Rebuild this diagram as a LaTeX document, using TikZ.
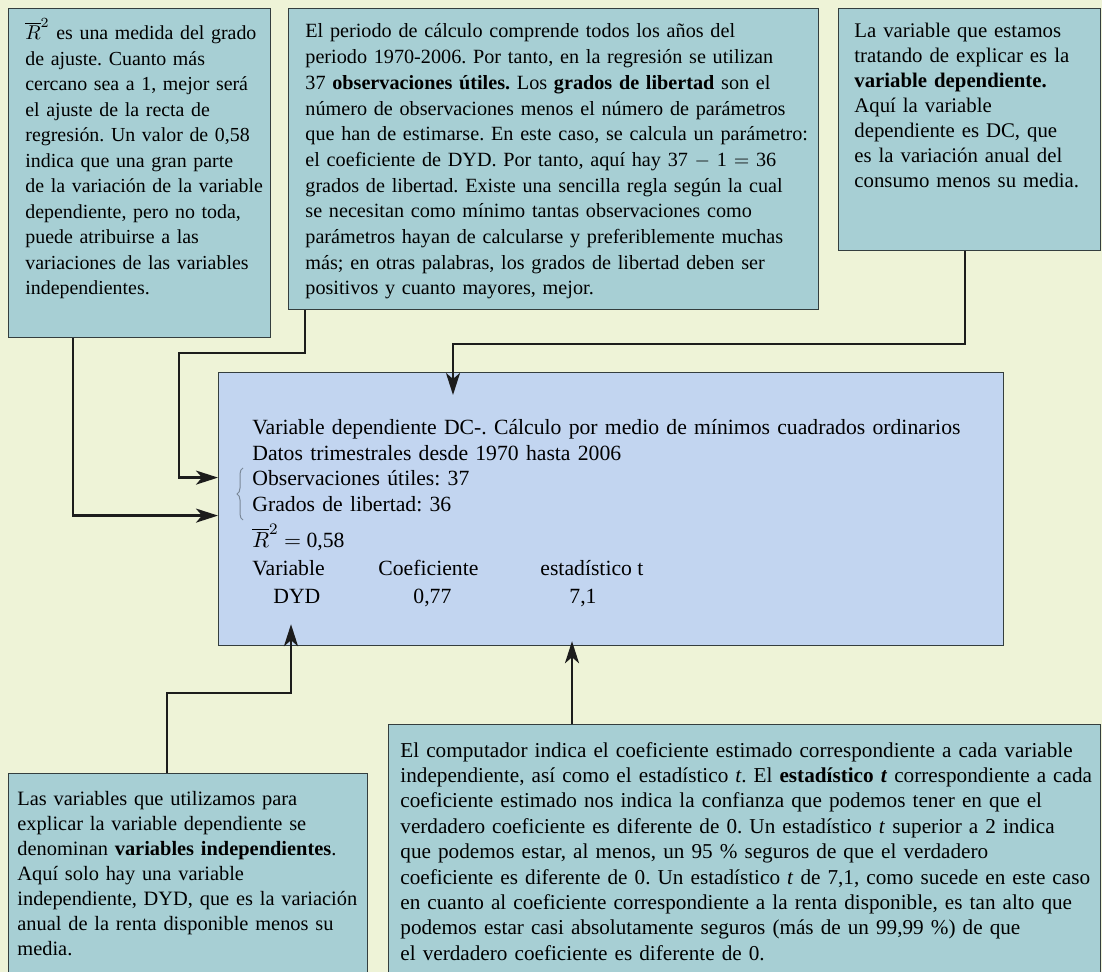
\documentclass[tikz,border=0pt]{standalone}
\usepackage{fontspec}
\setmainfont{Liberation Serif}
\usetikzlibrary{arrows.meta,decorations.pathreplacing}

\definecolor{bgcream}{HTML}{EEF3D7}
\definecolor{notefill}{HTML}{A7CFD4}
\definecolor{mainfill}{HTML}{C2D5F0}
\definecolor{boxedge}{HTML}{343E3E}
\definecolor{linkdark}{HTML}{1C1C1C}
\definecolor{bracegray}{HTML}{7A8898}

\newcommand{\rbar}{$\overline{R}^{2}$}
\frenchspacing

\begin{document}
\begin{tikzpicture}[
		x=0.5pt, y=-0.5pt,
		note box/.style={draw=boxedge, line width=0.6pt, fill=notefill, anchor=north west, inner sep=0pt},
		main box/.style={note box, fill=mainfill},
		note text/.style={anchor=base west, inner sep=0pt, align=left, text width=#1},
		note text/.default=400pt,
		cell/.style={anchor=base west, inner sep=0pt, font=\fontsize{10.85}{12.7}\selectfont},
		link/.style={draw=linkdark, line width=1.3pt, -{Stealth[length=11pt,width=7pt,inset=3pt]}}
		]
		% background and page size
		\fill[bgcream] (0,0) rectangle (1102,972);
		\useasboundingbox (0,0) rectangle (1102,972);
		
		% boxes
		\node[note box, minimum width=131pt, minimum height=164.5pt] (boxA) at (8,8) {};
		\node[note box, minimum width=265pt, minimum height=150.5pt] (boxB) at (288,8) {};
		\node[note box, minimum width=131pt, minimum height=121pt] (boxC) at (838,8) {};
		\node[main box, minimum width=392.5pt, minimum height=136.5pt] (main) at (218,372) {};
		\node[note box, minimum width=179.5pt, minimum height=110pt] (boxD) at (8,773) {};
		\node[note box, minimum width=356pt, minimum height=130pt] (boxE) at (388,724) {};
		
		% texts of the notes
		\node[note text=140pt, font=\fontsize{9.95}{12.75}\selectfont] (textA) at (25,40) {%
			\rbar{} es una medida del grado\\
			de ajuste. Cuanto más\\
			cercano sea a 1, mejor será\\
			el ajuste de la recta de\\
			regresión. Un valor de 0,58\\
			indica que una gran parte\\
			de la variación de la variable\\
			dependiente, pero no toda,\\
			puede atribuirse a las\\
			variaciones de las variables\\
			independientes.};
		\node[note text=280pt, font=\fontsize{10.1}{12.85}\selectfont] (textB) at (305,38) {%
			El periodo de cálculo comprende todos los años del\\
			periodo 1970-2006. Por tanto, en la regresión se utilizan\\
			37 \textbf{observaciones útiles.} Los \textbf{grados de libertad} son el\\
			número de observaciones menos el número de parámetros\\
			que han de estimarse. En este caso, se calcula un parámetro:\\
			el coeficiente de DYD. Por tanto, aquí hay 37 $-$ 1 $=$ 36\\
			grados de libertad. Existe una sencilla regla según la cual\\
			se necesitan como mínimo tantas observaciones como\\
			parámetros hayan de calcularse y preferiblemente muchas\\
			más; en otras palabras, los grados de libertad deben ser\\
			positivos y cuanto mayores, mejor.};
		\node[note text=140pt, font=\fontsize{10.4}{12.5}\selectfont] (textC) at (854,38) {%
			La variable que estamos\\
			tratando de explicar es la\\
			\textbf{variable dependiente.}\\
			Aquí la variable\\
			dependiente es DC, que\\
			es la variación anual del\\
			consumo menos su media.};
		\node[note text=190pt, font=\fontsize{10.2}{12.5}\selectfont] (textD) at (17,805) {%
			Las variables que utilizamos para\\
			explicar la variable dependiente se\\
			denominan \textbf{variables independientes}.\\
			Aquí solo hay una variable\\
			independiente, DYD, que es la variación\\
			anual de la renta disponible menos su\\
			media.};
		\node[note text=370pt, font=\fontsize{10.6}{12.7}\selectfont] (textE) at (400,757) {%
			El computador indica el coeficiente estimado correspondiente a cada variable\\
			independiente, así como el estadístico \textit{t}. El \textbf{estadístico \textit{t}} correspondiente a cada\\
			coeficiente estimado nos indica la confianza que podemos tener en que el\\
			verdadero coeficiente es diferente de 0. Un estadístico \textit{t} superior a 2 indica\\
			que podemos estar, al menos, un 95 \% seguros de que el verdadero\\
			coeficiente es diferente de 0. Un estadístico \textit{t} de 7,1, como sucede en este caso\\
			en cuanto al coeficiente correspondiente a la renta disponible, es tan alto que\\
			podemos estar casi absolutamente seguros (más de un 99,99 \%) de que\\
			el verdadero coeficiente es diferente de 0.};
		
		% regression output
		\node[note text, font=\fontsize{10.85}{12.7}\selectfont] (outHead) at (252,435) {%
			Variable dependiente DC-. Cálculo por medio de mínimos cuadrados ordinarios\\
			Datos trimestrales desde 1970 hasta 2006\\
			Observaciones útiles: 37\\
			Grados de libertad: 36};
		\node[cell] (outR) at (252,547) {\rbar{} $=$ 0,58};
		\node[cell] (colVar) at (252,575) {Variable};
		\node[cell] (colCoef) at (378,575) {Coeficiente};
		\node[cell] (colStat) at (540,575) {estadístico t};
		\node[cell] (valVar) at (273,603) {DYD};
		\node[cell] (valCoef) at (413,603) {0,77};
		\node[cell] (valStat) at (569,603) {7,1};
		\draw[bracegray, line width=0.5pt, decorate, decoration={brace, amplitude=3pt}] (243,520) -- (243,468);
		
		% connectors
		\draw[link] (boxA.south west) ++(65,0) |- ([yshift=-3.25pt]main.west);
		\draw[link] (boxB.south west) ++(17,0) -- ++(0,43) -- ++(-126,0) |- ([yshift=15.75pt]main.west);
		\draw[link] (boxC.south west) ++(127,0) -- ++(0,93) -| ([shift={(117.5pt,-11.5pt)}]main.north west);
		\draw[link] (boxD.north west) ++(159,0) -- ++(0,-80) -| ([shift={(36.5pt,11pt)}]main.south west);
		\draw[link] (boxE.north west) ++(184,0) -- ([shift={(177pt,2.5pt)}]main.south west);
	\end{tikzpicture}
\end{document}
